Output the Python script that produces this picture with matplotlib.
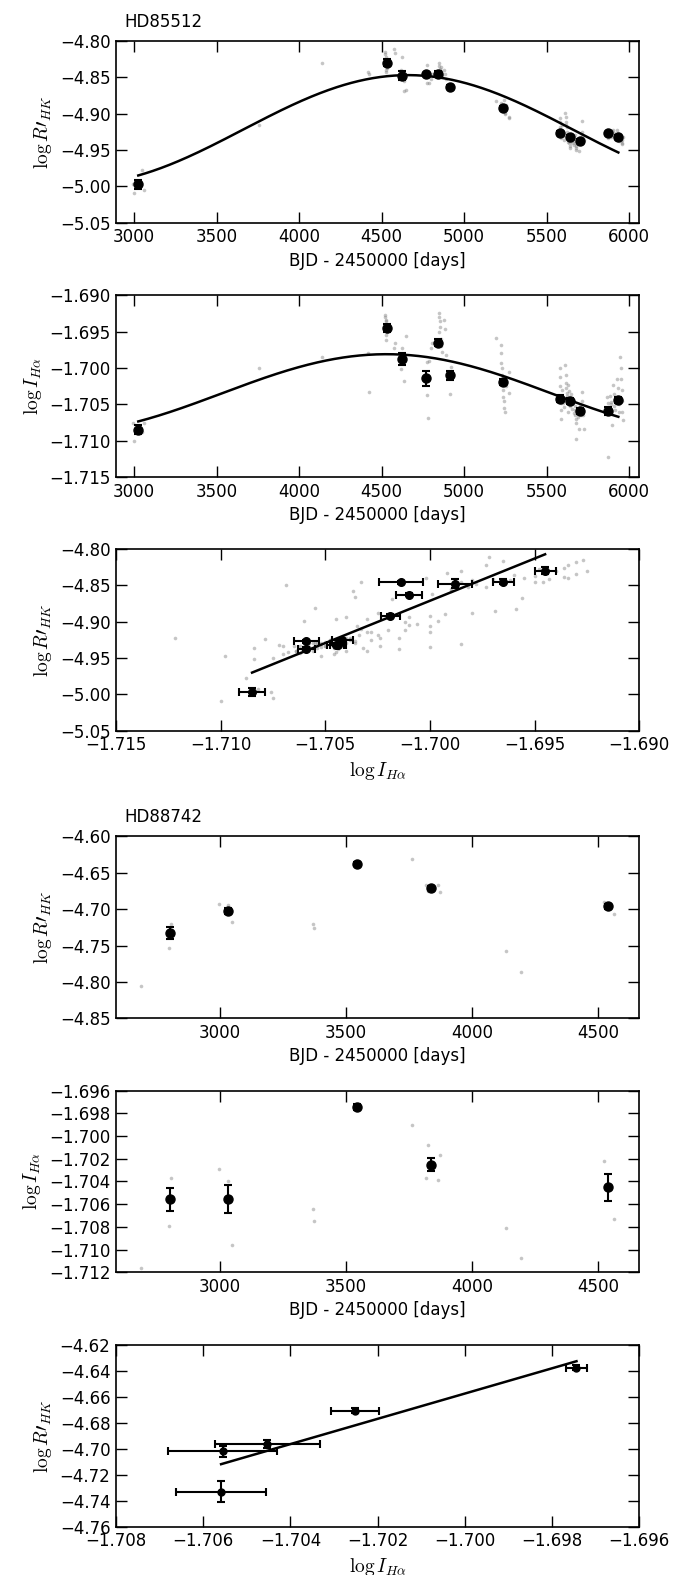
import numpy as np
import matplotlib
matplotlib.use('Agg')
import matplotlib.pyplot as plt
from matplotlib.ticker import MultipleLocator, ScalarFormatter

plt.rcParams['font.family'] = ['DejaVu Sans']
plt.rcParams['mathtext.fontset'] = 'cm'

# ---------------- HD85512 : binned (black) values ----------------
hd1_t = [3025, 4530, 4625, 4770, 4840, 4915, 5235, 5580, 5645, 5705, 5875, 5935]
hd1_rhk = [-4.997, -4.830, -4.848, -4.846, -4.845, -4.863, -4.892, -4.926, -4.932, -4.938, -4.927, -4.932]
hd1_rhk_err = [0.006, 0.0046, 0.0064, 0.002, 0.0035, 0.002, 0.002, 0.002, 0.002, 0.003, 0.002, 0.002]
hd1_ha = [-1.7085, -1.6945, -1.6988, -1.7014, -1.6965, -1.7010, -1.7019, -1.7042, -1.7045, -1.7059, -1.7059, -1.7044]
hd1_ha_err = [0.0006, 0.0005, 0.0008, 0.00105, 0.0005, 0.0006, 0.00045, 0.0005, 0.0004, 0.0004, 0.0006, 0.0004]

# HD85512 activity-cycle fits (period, epoch of maximum, amplitude, mean level)
cyc1_period = 4000.0
cyc1_rhk_tmax, cyc1_rhk_amp, cyc1_rhk_mean = 4660.0, 0.075, -4.922
cyc1_ha_tmax, cyc1_ha_amp, cyc1_ha_mean = 4530.0, 0.0054, -1.7035

# ---------------- HD85512 : individual (grey) measurements ----------------
grey1_t = [2990, 3000, 3048, 3062, 3025, 3030,
           3756, 4137, 4419, 4423,
           4520, 4522, 4524, 4526, 4528, 4530, 4532, 4527, 4525, 4529,
           4573, 4580, 4621, 4617, 4633, 4636, 4647, 4630,
           4778, 4774, 4782, 4802, 4788, 4804,
           4849, 4849, 4851, 4852, 4850, 4879, 4883, 4859, 4862, 4866, 4889, 4919, 4915,
           5192, 5222, 5222, 5225, 5228, 5230, 5232, 5235, 5238, 5240, 5242, 5245, 5250, 5256, 5272, 5270,
           5580, 5582, 5584, 5585, 5586, 5588, 5590, 5592, 5595,
           5612, 5615, 5618, 5620, 5622, 5625,
           5632, 5635, 5638, 5640, 5645, 5648, 5650,
           5670, 5672, 5675, 5677, 5680, 5676, 5695, 5690,
           5712, 5715, 5717, 5719, 5726,
           5600, 5605, 5628, 5642, 5655, 5660, 5665, 5685, 5700, 5708,
           5867, 5870, 5872, 5871, 5875, 5887, 5890, 5897, 5905, 5908, 5910,
           5927, 5930, 5934, 5937, 5940, 5948, 5950, 5952, 5955, 5958, 5960, 5962,
           5880, 5893, 5915, 5944]
grey1_rhk = [-4.997, -5.009, -4.978, -5.005, -4.999, -4.993,
             -4.915, -4.830, -4.843, -4.845,
             -4.815, -4.818, -4.822, -4.826, -4.830, -4.833, -4.837, -4.840, -4.843, -4.828,
             -4.811, -4.817, -4.822, -4.840, -4.855, -4.869, -4.868, -4.845,
             -4.833, -4.858, -4.850, -4.853, -4.858, -4.845,
             -4.830, -4.834, -4.838, -4.842, -4.846, -4.840, -4.846, -4.836, -4.842, -4.848, -4.852, -4.862, -4.866,
             -4.883, -4.886, -4.888, -4.890, -4.892, -4.894, -4.891, -4.896, -4.893, -4.897, -4.881, -4.899, -4.900, -4.888, -4.906, -4.904,
             -4.906, -4.912, -4.918, -4.922, -4.926, -4.930, -4.933, -4.915, -4.928,
             -4.899, -4.905, -4.911, -4.915, -4.919, -4.925,
             -4.933, -4.937, -4.941, -4.944, -4.947, -4.938, -4.930,
             -4.930, -4.935, -4.940, -4.945, -4.950, -4.947, -4.951, -4.942,
             -4.910, -4.925, -4.929, -4.933, -4.936,
             -4.931, -4.936, -4.939, -4.934, -4.941, -4.937, -4.943, -4.939, -4.935, -4.940,
             -4.922, -4.926, -4.930, -4.922, -4.933, -4.924, -4.928, -4.924, -4.922, -4.927, -4.931,
             -4.922, -4.926, -4.930, -4.934, -4.938, -4.931, -4.935, -4.938, -4.940, -4.942, -4.936, -4.932,
             -4.929, -4.932, -4.935, -4.928]
grey1_ha = [-1.7076, -1.7100, -1.7088, -1.7075, -1.7085, -1.7082,
            -1.7000, -1.6985, -1.6980, -1.7033,
            -1.6927, -1.6930, -1.6934, -1.6936, -1.6940, -1.6945, -1.6950, -1.6955, -1.6962, -1.6948,
            -1.6972, -1.6965, -1.6973, -1.7002, -1.6990, -1.7018, -1.6956, -1.6985,
            -1.6992, -1.7037, -1.7069, -1.6973, -1.6990, -1.6966,
            -1.6925, -1.6930, -1.6936, -1.6943, -1.6950, -1.6934, -1.6946, -1.6960, -1.6970, -1.6978, -1.6982, -1.6999, -1.7036,
            -1.6959, -1.6969, -1.6980, -1.6993, -1.7000, -1.7010, -1.7020, -1.7030, -1.7040, -1.7045, -1.7055, -1.7060, -1.7012, -1.7025, -1.7035, -1.7006,
            -1.7000, -1.7012, -1.7025, -1.7038, -1.7048, -1.7058, -1.7070, -1.7030, -1.7042,
            -1.6996, -1.7010, -1.7020, -1.7028, -1.7034, -1.7038,
            -1.7024, -1.7032, -1.7040, -1.7046, -1.7052, -1.7044, -1.7036,
            -1.7052, -1.7058, -1.7064, -1.7070, -1.7075, -1.7098, -1.7084, -1.7068,
            -1.7033, -1.7045, -1.7055, -1.7065, -1.7084,
            -1.7048, -1.7054, -1.7060, -1.7050, -1.7056, -1.7046, -1.7062, -1.7058, -1.7052, -1.7064,
            -1.7040, -1.7048, -1.7056, -1.7122, -1.7062, -1.7038, -1.7050, -1.7079, -1.7024, -1.7036, -1.7052,
            -1.7015, -1.7028, -1.7040, -1.7050, -1.7061, -1.6985, -1.7000, -1.7015, -1.7030, -1.7045, -1.7060, -1.7072,
            -1.7054, -1.7047, -1.7058, -1.7044]

# ---------------- HD88742 ----------------
hd2_t = [2803, 3031, 3544, 3835, 4537]
hd2_rhk = [-4.733, -4.702, -4.6376, -4.6706, -4.6963]
hd2_rhk_err = [0.008, 0.004, 0.002, 0.002, 0.003]
hd2_ha = [-1.70559, -1.70555, -1.69744, -1.70252, -1.70453]
hd2_ha_err = [0.00103, 0.00125, 0.00025, 0.00054, 0.0012]

grey2_t = [2689, 2798, 2806, 2997, 3034, 3048, 3371, 3375, 3540, 3762,
           3817, 3826, 3865, 3872, 4135, 4195, 4523, 4562]
grey2_rhk = [-4.806, -4.753, -4.720, -4.693, -4.694, -4.717, -4.720, -4.726, -4.634, -4.631,
             -4.667, -4.675, -4.667, -4.677, -4.757, -4.787, -4.690, -4.706]
grey2_ha = [-1.7116, -1.7079, -1.7037, -1.7029, -1.7040, -1.7096, -1.7064, -1.7075, -1.6975, -1.6990,
            -1.7037, -1.7008, -1.7039, -1.7017, -1.7081, -1.7107, -1.7022, -1.7073]

xlabel_t = 'BJD - 2450000 [days]'
ylab_rhk = r'$\log R\prime_{HK}$'
ylab_ha = r'$\log I_{H\alpha}$'

fig = plt.figure(figsize=(6.78, 15.75), dpi=100)
L, W, H = 0.1711, 0.7718, 0.1154
bottoms = [0.8586, 0.6971, 0.5361, 0.3535, 0.1922, 0.0307]
axs = [fig.add_axes([L, b, W, H]) for b in bottoms]

GREY = dict(ls='none', marker='o', color='0.5', alpha=0.45, ms=2.6, mec='none', zorder=1)
EB = dict(fmt='o', color='k', ecolor='k', elinewidth=1.5, capsize=3, capthick=1.5, zorder=3)


def style(ax, xmaj, ymaj):
    ax.tick_params(direction='in', length=8, width=1.0, top=True, right=True,
                   labelsize=12, pad=4)
    for s in ax.spines.values():
        s.set_linewidth(1.2)
    ax.xaxis.set_major_locator(MultipleLocator(xmaj))
    ax.yaxis.set_major_locator(MultipleLocator(ymaj))
    for a in (ax.xaxis, ax.yaxis):
        f = ScalarFormatter(useOffset=False)
        a.set_major_formatter(f)


def cycle(t, tmax, amp, mean, period):
    t = np.asarray(t, float)
    return mean + amp * np.cos(2 * np.pi * (t - tmax) / period)


# Panel 1
ax = axs[0]
ax.plot(grey1_t, grey1_rhk, **GREY)
tt = np.linspace(min(hd1_t), max(hd1_t), 400)
ax.plot(tt, cycle(tt, cyc1_rhk_tmax, cyc1_rhk_amp, cyc1_rhk_mean, cyc1_period), 'k-', lw=1.8, zorder=2)
ax.errorbar(hd1_t, hd1_rhk, yerr=hd1_rhk_err, ms=6.5, **EB)
ax.set_xlim(min(grey1_t) - 100, max(grey1_t) + 100)
ax.set_ylim(-5.05, -4.80)
style(ax, 500, 0.05)
ax.set_xlabel(xlabel_t, fontsize=12)
ax.set_ylabel(ylab_rhk, fontsize=14)
ax.text(0.016, 1.077, 'HD85512', transform=ax.transAxes, fontsize=12, va='baseline', ha='left')

# Panel 2
ax = axs[1]
ax.plot(grey1_t, grey1_ha, **GREY)
ax.plot(tt, cycle(tt, cyc1_ha_tmax, cyc1_ha_amp, cyc1_ha_mean, cyc1_period), 'k-', lw=1.8, zorder=2)
ax.errorbar(hd1_t, hd1_ha, yerr=hd1_ha_err, ms=6.5, **EB)
ax.set_xlim(min(grey1_t) - 100, max(grey1_t) + 100)
ax.set_ylim(-1.715, -1.690)
style(ax, 500, 0.005)
ax.set_xlabel(xlabel_t, fontsize=12)
ax.set_ylabel(ylab_ha, fontsize=14)

# Panel 3
ax = axs[2]
ax.plot(grey1_ha, grey1_rhk, **GREY)
p = np.polyfit(hd1_ha, hd1_rhk, 1)
xx = np.linspace(min(hd1_ha), max(hd1_ha), 50)
ax.plot(xx, np.polyval(p, xx), 'k-', lw=1.8, zorder=2)
ax.errorbar(hd1_ha, hd1_rhk, xerr=hd1_ha_err, yerr=hd1_rhk_err, ms=5.5, **EB)
ax.set_xlim(-1.715, -1.690)
ax.set_ylim(-5.05, -4.80)
style(ax, 0.005, 0.05)
ax.set_xlabel(ylab_ha, fontsize=14)
ax.set_ylabel(ylab_rhk, fontsize=14)

# Panel 4
ax = axs[3]
ax.plot(grey2_t, grey2_rhk, **GREY)
ax.errorbar(hd2_t, hd2_rhk, yerr=hd2_rhk_err, ms=6.5, **EB)
ax.set_xlim(min(grey2_t) - 100, max(grey2_t) + 100)
ax.set_ylim(-4.85, -4.60)
style(ax, 500, 0.05)
ax.set_xlabel(xlabel_t, fontsize=12)
ax.set_ylabel(ylab_rhk, fontsize=14)
ax.text(0.016, 1.077, 'HD88742', transform=ax.transAxes, fontsize=12, va='baseline', ha='left')

# Panel 5
ax = axs[4]
ax.plot(grey2_t, grey2_ha, **GREY)
ax.errorbar(hd2_t, hd2_ha, yerr=hd2_ha_err, ms=6.5, **EB)
ax.set_xlim(min(grey2_t) - 100, max(grey2_t) + 100)
ax.set_ylim(-1.712, -1.696)
style(ax, 500, 0.002)
ax.set_xlabel(xlabel_t, fontsize=12)
ax.set_ylabel(ylab_ha, fontsize=14)

# Panel 6
ax = axs[5]
p2 = np.polyfit(hd2_ha, hd2_rhk, 1)
xx2 = np.linspace(min(hd2_ha), max(hd2_ha), 50)
ax.plot(xx2, np.polyval(p2, xx2), 'k-', lw=1.8, zorder=2)
ax.errorbar(hd2_ha, hd2_rhk, xerr=hd2_ha_err, yerr=hd2_rhk_err, ms=5, **EB)
ax.set_xlim(-1.708, -1.696)
ax.set_ylim(-4.76, -4.62)
style(ax, 0.002, 0.02)
ax.set_xlabel(ylab_ha, fontsize=14)
ax.set_ylabel(ylab_rhk, fontsize=14)

fig.savefig('out.png', dpi=100)
